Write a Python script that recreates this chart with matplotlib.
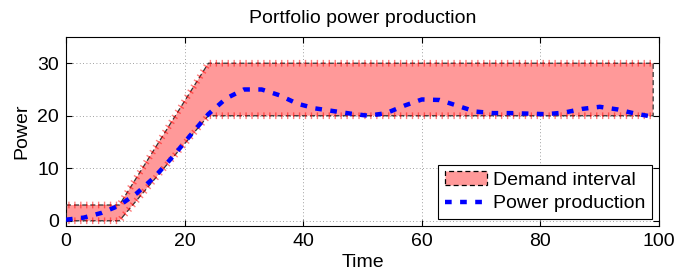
import numpy as np
import matplotlib
matplotlib.use("Agg")
import matplotlib.pyplot as plt
from matplotlib import patheffects as pe
from matplotlib.patches import Patch
from matplotlib.lines import Line2D

# demand interval breakpoints
demand_t = [0, 9, 24, 99]
demand_low = [0, 0, 20, 20]
demand_high = [3, 3, 30, 30]

# power production
time = [0, 3, 6, 9, 12, 15, 18, 21, 24, 27, 30, 33, 36, 39, 42, 45, 48, 51,
        54, 57, 60, 63, 66, 69, 72, 75, 78, 81, 84, 87, 90, 93, 96, 99]
power = [0.2, 0.6, 1.5, 2.9, 5.3, 8.4, 12.2, 16.3, 20.3, 23.3, 25.0, 25.0,
         23.9, 22.3, 21.4, 20.9, 20.4, 20.0, 20.5, 21.9, 23.1, 23.0, 21.9,
         20.8, 20.5, 20.5, 20.4, 20.3, 20.6, 21.3, 21.7, 21.2, 20.4, 19.8]

plt.rcParams['font.family'] = ['Liberation Sans', 'DejaVu Sans']
FS = 14

fig = plt.figure(figsize=(6.76, 2.78), dpi=100)
ax = fig.add_axes([0.0976, 0.187, 0.8774, 0.68])

# band
poly_x = demand_t + demand_t[::-1] + [demand_t[0]]
poly_y = demand_high + demand_low[::-1] + [demand_high[0]]
ax.fill(poly_x, poly_y, facecolor='#ff9999', edgecolor='none', zorder=2)
ax.plot(poly_x, poly_y, color='#333333', ls=(0, (4, 2.5)), lw=0.9, zorder=3)
# red tick marks along the bounds (matlab '+' markers)
for yy in (demand_low, demand_high):
    ax.plot(demand_t, yy, color='none', lw=0.5, zorder=4,
            path_effects=[pe.TickedStroke(spacing=4.25, angle=90, length=0.45,
                                          foreground='red', alpha=0.5, linewidth=1.0),
                          pe.TickedStroke(spacing=4.25, angle=-90, length=0.45,
                                          foreground='red', alpha=0.5, linewidth=1.0)])

ax.plot(time, power, color='blue', lw=3.2, ls=(0, (1.5, 1.9)), zorder=5,
        dash_capstyle='butt')

# legend proxies
h1 = Patch(facecolor='#ff9999', edgecolor='black', ls=(0, (4, 2.5)), lw=0.9)
h2 = Line2D([], [], color='blue', lw=3.2, ls=(0, (1.5, 1.9)), dash_capstyle='butt')
leg = ax.legend([h1, h2], ['Demand interval', 'Power production'], loc='lower right',
                fontsize=FS, frameon=True, fancybox=False, framealpha=1,
                edgecolor='black', borderpad=0.35, handlelength=2.2,
                handletextpad=0.3, labelspacing=0.3, borderaxespad=0.35)
leg.get_frame().set_linewidth(0.8)
leg.set_zorder(10)

ax.set_xlim(0, 100)
ax.set_ylim(-1, 35)
ax.set_xticks([0, 20, 40, 60, 80, 100])
ax.set_yticks([0, 10, 20, 30])
ax.grid(True, color='#808080', ls=(0, (1, 3)), lw=0.6)
ax.set_axisbelow(True)
ax.tick_params(direction='in', labelsize=FS, length=4, top=True, right=True, pad=5)
for s in ax.spines.values():
    s.set_linewidth(0.8)

ax.set_title("Portfolio power production", fontsize=FS, pad=10)
ax.set_xlabel("Time", fontsize=FS, labelpad=3)
ax.set_ylabel("Power", fontsize=FS, labelpad=5)

fig.savefig("out.png", dpi=100)
